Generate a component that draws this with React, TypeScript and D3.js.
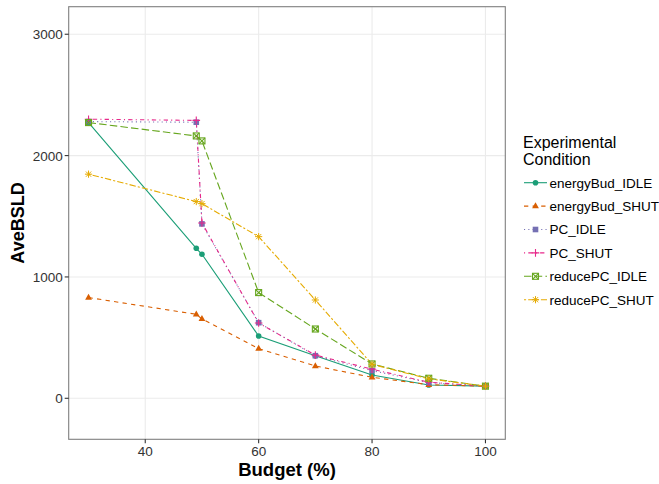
import * as d3 from "d3";

const budgets = [30, 49, 50, 60, 70, 80, 90, 100];
const seriesNames = ["energyBud_IDLE", "energyBud_SHUT", "PC_IDLE", "PC_SHUT", "reducePC_IDLE", "reducePC_SHUT"];
const energyBudIdle = [2272, 1236, 1187, 513, 350, 192, 110, 100];
const energyBudShut = [830, 692, 654, 409, 266, 173, 112, 100];
const pcIdle = [2280, 2275, 1437, 623, 351, 228, 130, 100];
const pcShut = [2300, 2290, 1445, 620, 356, 240, 132, 100];
const reducePcIdle = [2272, 2162, 2121, 871, 571, 283, 165, 100];
const reducePcShut = [1847, 1621, 1604, 1332, 810, 280, 160, 100];
const xTicks = [40, 60, 80, 100];
const yTicks = [0, 1000, 2000, 3000];

const colors = ["#1B9E77", "#D95F02", "#7570B3", "#E7298A", "#66A61E", "#E6AB02"];
const dashes = ["", "4.3,4.3", "1.1,3.2", "1.1,3.2,4.3,3.2", "7.5,3.2", "2.1,2.1,6.4,2.1"];
const shapes = ["circle", "triangle", "square", "plus", "boxx", "star"];
const values = [energyBudIdle, energyBudShut, pcIdle, pcShut, reducePcIdle, reducePcShut];

const W = 659, H = 484;
const left = 68.7, right = 505.3, top = 6.7, bottom = 439.3;
const font = "'Liberation Sans', Arial, Helvetica, sans-serif";

function Marker({ shape, x, y, color }: { shape: string; x: number; y: number; color: string }) {
  const s = 3;
  switch (shape) {
    case "circle":
      return <circle cx={x} cy={y} r={2.8} fill={color} />;
    case "triangle":
      return <path d={`M${x},${y - 3.8}L${x + 3.4},${y + 2.2}L${x - 3.4},${y + 2.2}Z`} fill={color} />;
    case "square":
      return <rect x={x - 2.8} y={y - 2.8} width={5.6} height={5.6} fill={color} />;
    case "plus":
      return <path d={`M${x - 3.8},${y}H${x + 3.8}M${x},${y - 3.8}V${y + 3.8}`} stroke={color} strokeWidth={1.1} fill="none" />;
    case "boxx":
      return (
        <g stroke={color} strokeWidth={1.1} fill="none">
          <rect x={x - s} y={y - s} width={2 * s} height={2 * s} />
          <path d={`M${x - s},${y - s}L${x + s},${y + s}M${x + s},${y - s}L${x - s},${y + s}`} />
        </g>
      );
    default:
      return (
        <path
          d={`M${x - 3.6},${y}H${x + 3.6}M${x},${y - 3.6}V${y + 3.6}M${x - 2.6},${y - 2.6}L${x + 2.6},${y + 2.6}M${x + 2.6},${y - 2.6}L${x - 2.6},${y + 2.6}`}
          stroke={color}
          strokeWidth={1}
          fill="none"
        />
      );
  }
}

export default function App() {
  const x = d3.scaleLinear().domain([26.5, 103.5]).range([left, right]);
  const y = d3.scaleLinear().domain([-338, 3227]).range([bottom, top]);
  const line = d3
    .line<number>()
    .x((_, i) => x(budgets[i]))
    .y((d) => y(d));

  return (
    <svg width={W} height={H} style={{ position: "absolute", left: 0, top: 0 }} fontFamily={font}>
      <rect width={W} height={H} fill="white" />
      {xTicks.map((t) => (
        <line key={"gx" + t} x1={x(t)} x2={x(t)} y1={top} y2={bottom} stroke="#ebebeb" strokeWidth={1.1} />
      ))}
      {yTicks.map((t) => (
        <line key={"gy" + t} x1={left} x2={right} y1={y(t)} y2={y(t)} stroke="#ebebeb" strokeWidth={1.1} />
      ))}
      {values.map((v, i) => (
        <path key={"l" + i} d={line(v) || ""} fill="none" stroke={colors[i]} strokeWidth={1.1} strokeDasharray={dashes[i]} />
      ))}
      {values.map((v, i) => (
        <g key={"p" + i}>
          {v.map((d, j) => (
            <Marker key={j} shape={shapes[i]} x={x(budgets[j])} y={y(d)} color={colors[i]} />
          ))}
        </g>
      ))}
      <rect x={left} y={top} width={right - left} height={bottom - top} fill="none" stroke="#7f7f7f" strokeWidth={1.1} />
      {xTicks.map((t) => (
        <g key={"tx" + t}>
          <line x1={x(t)} x2={x(t)} y1={bottom} y2={bottom + 4} stroke="#333" strokeWidth={1.1} />
          <text x={x(t)} y={bottom + 17} textAnchor="middle" fontSize={13.5} fill="#333">{t}</text>
        </g>
      ))}
      {yTicks.map((t) => (
        <g key={"ty" + t}>
          <line x1={left - 4} x2={left} y1={y(t)} y2={y(t)} stroke="#333" strokeWidth={1.1} />
          <text x={left - 6} y={y(t) + 5} textAnchor="end" fontSize={13.5} fill="#333">{t}</text>
        </g>
      ))}
      <text x={(left + right) / 2} y={476} textAnchor="middle" fontSize={18.5} fontWeight="bold">Budget (%)</text>
      <text transform={`translate(24,${(top + bottom) / 2}) rotate(-90)`} textAnchor="middle" fontSize={18} fontWeight="bold">AveBSLD</text>
      <g transform="translate(523,0)">
        <text x={0} y={148} fontSize={16}>Experimental</text>
        <text x={0} y={165} fontSize={16}>Condition</text>
        {seriesNames.map((n, i) => {
          const cy = 182.7 + i * 23.4;
          return (
            <g key={n}>
              <line x1={1} x2={24} y1={cy} y2={cy} stroke={colors[i]} strokeWidth={1.1} strokeDasharray={dashes[i]} />
              <Marker shape={shapes[i]} x={12.5} y={cy} color={colors[i]} />
              <text x={26.5} y={cy + 4.8} fontSize={13.5} fill="#000">{n}</text>
            </g>
          );
        })}
      </g>
    </svg>
  );
}
